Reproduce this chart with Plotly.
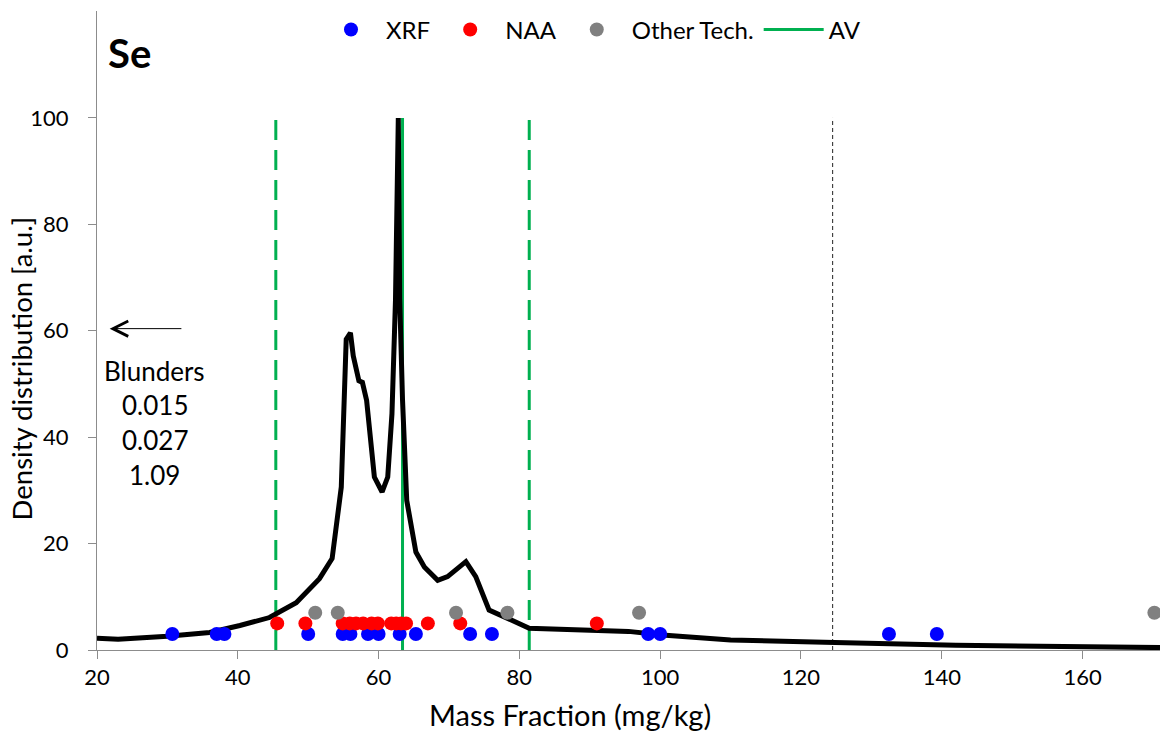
import plotly.graph_objects as go

# ---- data ----
curve_x = [20, 23, 30, 36, 40.3, 44.5, 48.3, 51.6, 53.4, 54.7, 55.4, 56.0, 56.4, 57.2, 57.7,
           58.3, 59.4, 60.5, 61.3, 61.9, 62.4, 62.8, 63.0, 63.4, 64.0, 65.3, 66.5, 68.4,
           69.8, 72.4, 73.8, 75.7, 81.4, 88.5, 95.5, 100.3, 110, 124.8, 142, 171]
curve_y = [2.2, 2.0, 2.6, 3.3, 4.6, 6.1, 8.9, 13.4, 17.2, 30.6, 58.4, 59.6, 55.3, 50.6, 50.3,
           46.9, 32.5, 29.7, 32.5, 44.4, 65.7, 100, 66, 47, 28.1, 18.4, 15.6, 13.1,
           13.8, 16.6, 13.8, 7.5, 4.1, 3.8, 3.5, 2.8, 1.9, 1.4, 0.9, 0.45]

xrf_x = [30.7, 37.0, 38.1, 50.0, 54.9, 56.0, 58.5, 60.0, 63.0, 65.3, 73.0, 76.1, 98.3, 100.0, 132.5, 139.3]
naa_x = [45.6, 49.6, 54.9, 55.9, 56.8, 57.8, 59.0, 59.9, 61.8, 62.5, 63.2, 63.9, 67.0, 71.6, 91.0]
oth_x = [51.0, 54.2, 71.0, 78.3, 97.0, 170.2]
row_level = {"XRF": 3, "NAA": 5, "Other Tech.": 7}

av = 63.4
av_limits = [45.4, 81.4]
blunder_limit = 124.5
line_top = 100

blunder_labels = ["Blunders", "0.015", "0.027", "1.09"]
blunder_label_y = [52.4, 46.1, 39.4, 32.8]
blunder_label_x = 28.2
arrow_y = 60.4
arrow_from_x = 32.2
arrow_to_x = 21.8

x_ticks = [20, 40, 60, 80, 100, 120, 140, 160]
y_ticks = [0, 20, 40, 60, 80, 100]
y_range = [0, 120.1]

FONT = "Lato"
GREEN = "#00B050"
AXIS = "#8c8c8c"

fig = go.Figure()

# AV solid line (legend last)
fig.add_trace(go.Scatter(x=[av, av], y=[0, line_top], mode="lines", name="AV",
                         line=dict(color=GREEN, width=3), legendrank=4))
# density curve
fig.add_trace(go.Scatter(x=curve_x, y=curve_y, mode="lines", showlegend=False,
                         line=dict(color="black", width=5)))

for name, xs, col, rank in [("XRF", xrf_x, "#0000FF", 1), ("NAA", naa_x, "#FF0000", 2),
                            ("Other Tech.", oth_x, "#808080", 3)]:
    fig.add_trace(go.Scatter(x=xs, y=[row_level[name]] * len(xs), mode="markers", name=name,
                             marker=dict(color=col, size=14, line=dict(width=0)), legendrank=rank))

# invisible helper trace so the tick-mark overlay axis is drawn
fig.add_trace(go.Scatter(x=[None], y=[None], yaxis="y2", showlegend=False, hoverinfo="skip"))

for lx in av_limits:
    fig.add_shape(type="line", x0=lx, x1=lx, y0=0, y1=line_top, xref="x", yref="y",
                  line=dict(color=GREEN, width=3, dash="20px,10px"), layer="below")
fig.add_shape(type="line", x0=blunder_limit, x1=blunder_limit, y0=0, y1=line_top, xref="x", yref="y",
              line=dict(color="#222222", width=1, dash="4px,3px"), layer="below")

fig.add_annotation(x=arrow_to_x, y=arrow_y, ax=arrow_from_x, ay=arrow_y, xref="x", yref="y",
                   axref="x", ayref="y", text="", showarrow=True, arrowhead=5, arrowsize=3,
                   arrowwidth=1, arrowcolor="black")
for t, yy in zip(blunder_labels, blunder_label_y):
    fig.add_annotation(x=blunder_label_x, y=yy, xref="x", yref="y", text=t, showarrow=False,
                       font=dict(family=FONT, size=26, color="black"))

fig.add_annotation(x=0.008, y=0.9336, xref="paper", yref="paper", text="<b>Se</b>", showarrow=False,
                   xanchor="left", yanchor="middle", font=dict(family=FONT, size=40, color="black"))

# axis titles (offset from centre as in the original)
fig.add_annotation(x=0.445, y=-0.1016, xref="paper", yref="paper", text="Mass Fraction (mg/kg)",
                   showarrow=False, xanchor="center", yanchor="middle",
                   font=dict(family=FONT, size=29, color="black"))
fig.add_annotation(x=-0.0706, y=0.4406, xref="paper", yref="paper", text="Density distribution [a.u.]",
                   showarrow=False, xanchor="center", yanchor="middle", textangle=-90,
                   font=dict(family=FONT, size=27.5, color="black"))

fig.update_layout(
    width=1168, height=736,
    margin=dict(l=97, r=8, t=10, b=86),
    plot_bgcolor="white", paper_bgcolor="white",
    font=dict(family=FONT, size=22, color="black"),
    showlegend=True,
    legend=dict(orientation="h", x=(316 - 97) / 1063, xanchor="left", y=1.004, yanchor="top",
                bgcolor="rgba(0,0,0,0)", font=dict(family=FONT, size=24), itemsizing="trace",
                itemwidth=60, traceorder="normal"),
    xaxis=dict(range=[20, 171], tickvals=x_ticks, showline=True, linecolor=AXIS, linewidth=1,
               ticks="outside", ticklen=8, tickcolor=AXIS, showgrid=False, zeroline=False,
               tickfont=dict(family=FONT, size=22)),
    # labels pushed away from the axis by long transparent ticks
    yaxis=dict(range=y_range, tickvals=y_ticks, showline=True, linecolor=AXIS, linewidth=1,
               ticks="outside", ticklen=23, tickcolor="rgba(0,0,0,0)", showgrid=False, zeroline=False,
               tickfont=dict(family=FONT, size=22)),
    # visible short tick marks
    yaxis2=dict(range=y_range, tickvals=y_ticks, overlaying="y", side="left", showline=False,
                ticks="outside", ticklen=8, tickcolor=AXIS, showticklabels=False,
                showgrid=False, zeroline=False),
)

fig.write_html("out.html")
